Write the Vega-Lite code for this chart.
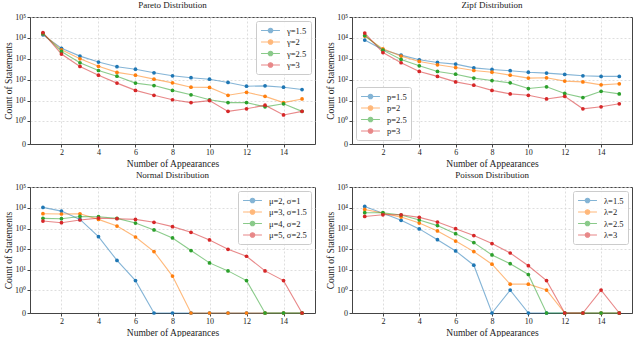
{
  "$schema": "https://vega.github.io/schema/vega-lite/v6.json",
  "padding": {"left": 2, "top": 0, "right": 4, "bottom": 0},
  "background": "white",
  "spacing": {"row": 2, "column": 8},
  "config": {
    "font": "Liberation Serif",
    "view": {"stroke": "#444", "strokeWidth": 1},
    "axis": {"labelFont": "Liberation Serif", "titleFont": "Liberation Serif", "labelFontSize": 8, "titleFontSize": 9.5, "titleFontWeight": "normal", "labelColor": "#222", "titleColor": "#222", "domainColor": "#444", "tickColor": "#444", "tickSize": 3, "gridColor": "#d6d6d6", "gridDash": [2, 2], "gridWidth": 0.8, "labelPadding": 1.5, "titlePadding": 1.5},
    "title": {"font": "Liberation Serif", "fontSize": 9, "fontWeight": "normal", "offset": 3, "color": "#222"},
    "legend": {"labelFont": "Liberation Serif", "labelFontSize": 8.5, "labelColor": "#222", "strokeColor": "#ccc", "fillColor": "rgba(255,255,255,0.85)", "padding": 4, "cornerRadius": 2, "symbolType": "M-2.1,0H2.1M-0.5,0A0.5,0.5,0,1,1,0.5,0A0.5,0.5,0,1,1,-0.5,0Z", "symbolSize": 81, "symbolStrokeWidth": 1.2, "symbolOffset": 5, "rowPadding": 0.5, "labelOffset": 11, "offset": 4}
  },
  "data": {"values": [
    {"d":"Pareto","s":"γ=1.5","x":1,"y":14000},{"d":"Pareto","s":"γ=1.5","x":2,"y":3200},{"d":"Pareto","s":"γ=1.5","x":3,"y":1350},{"d":"Pareto","s":"γ=1.5","x":4,"y":700},{"d":"Pareto","s":"γ=1.5","x":5,"y":420},{"d":"Pareto","s":"γ=1.5","x":6,"y":320},{"d":"Pareto","s":"γ=1.5","x":7,"y":215},{"d":"Pareto","s":"γ=1.5","x":8,"y":155},{"d":"Pareto","s":"γ=1.5","x":9,"y":125},{"d":"Pareto","s":"γ=1.5","x":10,"y":106},{"d":"Pareto","s":"γ=1.5","x":11,"y":74},{"d":"Pareto","s":"γ=1.5","x":12,"y":49},{"d":"Pareto","s":"γ=1.5","x":13,"y":51},{"d":"Pareto","s":"γ=1.5","x":14,"y":44},{"d":"Pareto","s":"γ=1.5","x":15,"y":34},
    {"d":"Pareto","s":"γ=2","x":1,"y":16000},{"d":"Pareto","s":"γ=2","x":2,"y":2700},{"d":"Pareto","s":"γ=2","x":3,"y":1000},{"d":"Pareto","s":"γ=2","x":4,"y":440},{"d":"Pareto","s":"γ=2","x":5,"y":225},{"d":"Pareto","s":"γ=2","x":6,"y":165},{"d":"Pareto","s":"γ=2","x":7,"y":107},{"d":"Pareto","s":"γ=2","x":8,"y":71},{"d":"Pareto","s":"γ=2","x":9,"y":44},{"d":"Pareto","s":"γ=2","x":10,"y":43},{"d":"Pareto","s":"γ=2","x":11,"y":18},{"d":"Pareto","s":"γ=2","x":12,"y":25},{"d":"Pareto","s":"γ=2","x":13,"y":16},{"d":"Pareto","s":"γ=2","x":14,"y":8},{"d":"Pareto","s":"γ=2","x":15,"y":12},
    {"d":"Pareto","s":"γ=2.5","x":1,"y":16000},{"d":"Pareto","s":"γ=2.5","x":2,"y":2250},{"d":"Pareto","s":"γ=2.5","x":3,"y":650},{"d":"Pareto","s":"γ=2.5","x":4,"y":277},{"d":"Pareto","s":"γ=2.5","x":5,"y":148},{"d":"Pareto","s":"γ=2.5","x":6,"y":69},{"d":"Pareto","s":"γ=2.5","x":7,"y":53},{"d":"Pareto","s":"γ=2.5","x":8,"y":31},{"d":"Pareto","s":"γ=2.5","x":9,"y":19},{"d":"Pareto","s":"γ=2.5","x":10,"y":11},{"d":"Pareto","s":"γ=2.5","x":11,"y":8},{"d":"Pareto","s":"γ=2.5","x":12,"y":8},{"d":"Pareto","s":"γ=2.5","x":13,"y":5},{"d":"Pareto","s":"γ=2.5","x":14,"y":7},{"d":"Pareto","s":"γ=2.5","x":15,"y":3},
    {"d":"Pareto","s":"γ=3","x":1,"y":18000},{"d":"Pareto","s":"γ=3","x":2,"y":1700},{"d":"Pareto","s":"γ=3","x":3,"y":435},{"d":"Pareto","s":"γ=3","x":4,"y":166},{"d":"Pareto","s":"γ=3","x":5,"y":69},{"d":"Pareto","s":"γ=3","x":6,"y":31},{"d":"Pareto","s":"γ=3","x":7,"y":18},{"d":"Pareto","s":"γ=3","x":8,"y":11},{"d":"Pareto","s":"γ=3","x":9,"y":8},{"d":"Pareto","s":"γ=3","x":10,"y":10},{"d":"Pareto","s":"γ=3","x":11,"y":3},{"d":"Pareto","s":"γ=3","x":12,"y":4},{"d":"Pareto","s":"γ=3","x":13,"y":6},{"d":"Pareto","s":"γ=3","x":14,"y":2},{"d":"Pareto","s":"γ=3","x":15,"y":3},
    {"d":"Zipf","s":"p=1.5","x":1,"y":7900},{"d":"Zipf","s":"p=1.5","x":2,"y":2700},{"d":"Zipf","s":"p=1.5","x":3,"y":1500},{"d":"Zipf","s":"p=1.5","x":4,"y":900},{"d":"Zipf","s":"p=1.5","x":5,"y":670},{"d":"Zipf","s":"p=1.5","x":6,"y":560},{"d":"Zipf","s":"p=1.5","x":7,"y":370},{"d":"Zipf","s":"p=1.5","x":8,"y":310},{"d":"Zipf","s":"p=1.5","x":9,"y":270},{"d":"Zipf","s":"p=1.5","x":10,"y":230},{"d":"Zipf","s":"p=1.5","x":11,"y":208},{"d":"Zipf","s":"p=1.5","x":12,"y":180},{"d":"Zipf","s":"p=1.5","x":13,"y":155},{"d":"Zipf","s":"p=1.5","x":14,"y":145},{"d":"Zipf","s":"p=1.5","x":15,"y":145},
    {"d":"Zipf","s":"p=2","x":1,"y":12300},{"d":"Zipf","s":"p=2","x":2,"y":3000},{"d":"Zipf","s":"p=2","x":3,"y":1350},{"d":"Zipf","s":"p=2","x":4,"y":750},{"d":"Zipf","s":"p=2","x":5,"y":520},{"d":"Zipf","s":"p=2","x":6,"y":385},{"d":"Zipf","s":"p=2","x":7,"y":277},{"d":"Zipf","s":"p=2","x":8,"y":230},{"d":"Zipf","s":"p=2","x":9,"y":166},{"d":"Zipf","s":"p=2","x":10,"y":120},{"d":"Zipf","s":"p=2","x":11,"y":124},{"d":"Zipf","s":"p=2","x":12,"y":86},{"d":"Zipf","s":"p=2","x":13,"y":79},{"d":"Zipf","s":"p=2","x":14,"y":57},{"d":"Zipf","s":"p=2","x":15,"y":64},
    {"d":"Zipf","s":"p=2.5","x":1,"y":13000},{"d":"Zipf","s":"p=2.5","x":2,"y":2600},{"d":"Zipf","s":"p=2.5","x":3,"y":940},{"d":"Zipf","s":"p=2.5","x":4,"y":465},{"d":"Zipf","s":"p=2.5","x":5,"y":250},{"d":"Zipf","s":"p=2.5","x":6,"y":185},{"d":"Zipf","s":"p=2.5","x":7,"y":120},{"d":"Zipf","s":"p=2.5","x":8,"y":92},{"d":"Zipf","s":"p=2.5","x":9,"y":71},{"d":"Zipf","s":"p=2.5","x":10,"y":38},{"d":"Zipf","s":"p=2.5","x":11,"y":46},{"d":"Zipf","s":"p=2.5","x":12,"y":22},{"d":"Zipf","s":"p=2.5","x":13,"y":14},{"d":"Zipf","s":"p=2.5","x":14,"y":28},{"d":"Zipf","s":"p=2.5","x":15,"y":21},
    {"d":"Zipf","s":"p=3","x":1,"y":17000},{"d":"Zipf","s":"p=3","x":2,"y":2000},{"d":"Zipf","s":"p=3","x":3,"y":650},{"d":"Zipf","s":"p=3","x":4,"y":250},{"d":"Zipf","s":"p=3","x":5,"y":145},{"d":"Zipf","s":"p=3","x":6,"y":79},{"d":"Zipf","s":"p=3","x":7,"y":55},{"d":"Zipf","s":"p=3","x":8,"y":31},{"d":"Zipf","s":"p=3","x":9,"y":21},{"d":"Zipf","s":"p=3","x":10,"y":18},{"d":"Zipf","s":"p=3","x":11,"y":12},{"d":"Zipf","s":"p=3","x":12,"y":16},{"d":"Zipf","s":"p=3","x":13,"y":4},{"d":"Zipf","s":"p=3","x":14,"y":5},{"d":"Zipf","s":"p=3","x":15,"y":7},
    {"d":"Normal","s":"μ=2, σ=1","x":1,"y":10400},{"d":"Normal","s":"μ=2, σ=1","x":2,"y":6900},{"d":"Normal","s":"μ=2, σ=1","x":3,"y":2750},{"d":"Normal","s":"μ=2, σ=1","x":4,"y":405},{"d":"Normal","s":"μ=2, σ=1","x":5,"y":29},{"d":"Normal","s":"μ=2, σ=1","x":6,"y":3},{"d":"Normal","s":"μ=2, σ=1","x":7,"y":0},{"d":"Normal","s":"μ=2, σ=1","x":8,"y":0},{"d":"Normal","s":"μ=2, σ=1","x":9,"y":0},{"d":"Normal","s":"μ=2, σ=1","x":10,"y":0},{"d":"Normal","s":"μ=2, σ=1","x":11,"y":0},{"d":"Normal","s":"μ=2, σ=1","x":12,"y":0},{"d":"Normal","s":"μ=2, σ=1","x":13,"y":0},{"d":"Normal","s":"μ=2, σ=1","x":14,"y":0},{"d":"Normal","s":"μ=2, σ=1","x":15,"y":0},
    {"d":"Normal","s":"μ=3, σ=1.5","x":1,"y":5150},{"d":"Normal","s":"μ=3, σ=1.5","x":2,"y":5000},{"d":"Normal","s":"μ=3, σ=1.5","x":3,"y":5100},{"d":"Normal","s":"μ=3, σ=1.5","x":4,"y":2750},{"d":"Normal","s":"μ=3, σ=1.5","x":5,"y":1320},{"d":"Normal","s":"μ=3, σ=1.5","x":6,"y":390},{"d":"Normal","s":"μ=3, σ=1.5","x":7,"y":77},{"d":"Normal","s":"μ=3, σ=1.5","x":8,"y":5},{"d":"Normal","s":"μ=3, σ=1.5","x":9,"y":0},{"d":"Normal","s":"μ=3, σ=1.5","x":10,"y":0},{"d":"Normal","s":"μ=3, σ=1.5","x":11,"y":0},{"d":"Normal","s":"μ=3, σ=1.5","x":12,"y":0},{"d":"Normal","s":"μ=3, σ=1.5","x":13,"y":0},{"d":"Normal","s":"μ=3, σ=1.5","x":14,"y":0},{"d":"Normal","s":"μ=3, σ=1.5","x":15,"y":0},
    {"d":"Normal","s":"μ=4, σ=2","x":1,"y":3080},{"d":"Normal","s":"μ=4, σ=2","x":2,"y":2960},{"d":"Normal","s":"μ=4, σ=2","x":3,"y":3800},{"d":"Normal","s":"μ=4, σ=2","x":4,"y":3700},{"d":"Normal","s":"μ=4, σ=2","x":5,"y":3080},{"d":"Normal","s":"μ=4, σ=2","x":6,"y":1830},{"d":"Normal","s":"μ=4, σ=2","x":7,"y":850},{"d":"Normal","s":"μ=4, σ=2","x":8,"y":350},{"d":"Normal","s":"μ=4, σ=2","x":9,"y":87},{"d":"Normal","s":"μ=4, σ=2","x":10,"y":22},{"d":"Normal","s":"μ=4, σ=2","x":11,"y":9},{"d":"Normal","s":"μ=4, σ=2","x":12,"y":3},{"d":"Normal","s":"μ=4, σ=2","x":13,"y":0},{"d":"Normal","s":"μ=4, σ=2","x":14,"y":0},{"d":"Normal","s":"μ=4, σ=2","x":15,"y":0},
    {"d":"Normal","s":"μ=5, σ=2.5","x":1,"y":2290},{"d":"Normal","s":"μ=5, σ=2.5","x":2,"y":1900},{"d":"Normal","s":"μ=5, σ=2.5","x":3,"y":2570},{"d":"Normal","s":"μ=5, σ=2.5","x":4,"y":3170},{"d":"Normal","s":"μ=5, σ=2.5","x":5,"y":2960},{"d":"Normal","s":"μ=5, σ=2.5","x":6,"y":2750},{"d":"Normal","s":"μ=5, σ=2.5","x":7,"y":1990},{"d":"Normal","s":"μ=5, σ=2.5","x":8,"y":1230},{"d":"Normal","s":"μ=5, σ=2.5","x":9,"y":660},{"d":"Normal","s":"μ=5, σ=2.5","x":10,"y":280},{"d":"Normal","s":"μ=5, σ=2.5","x":11,"y":100},{"d":"Normal","s":"μ=5, σ=2.5","x":12,"y":46},{"d":"Normal","s":"μ=5, σ=2.5","x":13,"y":9},{"d":"Normal","s":"μ=5, σ=2.5","x":14,"y":3},{"d":"Normal","s":"μ=5, σ=2.5","x":15,"y":0},
    {"d":"Poisson","s":"λ=1.5","x":1,"y":11500},{"d":"Poisson","s":"λ=1.5","x":2,"y":5400},{"d":"Poisson","s":"λ=1.5","x":3,"y":2470},{"d":"Poisson","s":"λ=1.5","x":4,"y":960},{"d":"Poisson","s":"λ=1.5","x":5,"y":290},{"d":"Poisson","s":"λ=1.5","x":6,"y":83},{"d":"Poisson","s":"λ=1.5","x":7,"y":17},{"d":"Poisson","s":"λ=1.5","x":8,"y":0},{"d":"Poisson","s":"λ=1.5","x":9,"y":1},{"d":"Poisson","s":"λ=1.5","x":10,"y":0},{"d":"Poisson","s":"λ=1.5","x":11,"y":0},{"d":"Poisson","s":"λ=1.5","x":12,"y":0},{"d":"Poisson","s":"λ=1.5","x":13,"y":0},{"d":"Poisson","s":"λ=1.5","x":14,"y":0},{"d":"Poisson","s":"λ=1.5","x":15,"y":0},
    {"d":"Poisson","s":"λ=2","x":1,"y":8300},{"d":"Poisson","s":"λ=2","x":2,"y":5500},{"d":"Poisson","s":"λ=2","x":3,"y":3550},{"d":"Poisson","s":"λ=2","x":4,"y":1830},{"d":"Poisson","s":"λ=2","x":5,"y":760},{"d":"Poisson","s":"λ=2","x":6,"y":250},{"d":"Poisson","s":"λ=2","x":7,"y":77},{"d":"Poisson","s":"λ=2","x":8,"y":19},{"d":"Poisson","s":"λ=2","x":9,"y":2},{"d":"Poisson","s":"λ=2","x":10,"y":2},{"d":"Poisson","s":"λ=2","x":11,"y":1},{"d":"Poisson","s":"λ=2","x":12,"y":0},{"d":"Poisson","s":"λ=2","x":13,"y":0},{"d":"Poisson","s":"λ=2","x":14,"y":0},{"d":"Poisson","s":"λ=2","x":15,"y":0},
    {"d":"Poisson","s":"λ=2.5","x":1,"y":5750},{"d":"Poisson","s":"λ=2.5","x":2,"y":5750},{"d":"Poisson","s":"λ=2.5","x":3,"y":4450},{"d":"Poisson","s":"λ=2.5","x":4,"y":2570},{"d":"Poisson","s":"λ=2.5","x":5,"y":1380},{"d":"Poisson","s":"λ=2.5","x":6,"y":560},{"d":"Poisson","s":"λ=2.5","x":7,"y":209},{"d":"Poisson","s":"λ=2.5","x":8,"y":53},{"d":"Poisson","s":"λ=2.5","x":9,"y":20},{"d":"Poisson","s":"λ=2.5","x":10,"y":6},{"d":"Poisson","s":"λ=2.5","x":11,"y":0},{"d":"Poisson","s":"λ=2.5","x":12,"y":0},{"d":"Poisson","s":"λ=2.5","x":13,"y":0},{"d":"Poisson","s":"λ=2.5","x":14,"y":0},{"d":"Poisson","s":"λ=2.5","x":15,"y":0},
    {"d":"Poisson","s":"λ=3","x":1,"y":3820},{"d":"Poisson","s":"λ=3","x":2,"y":4600},{"d":"Poisson","s":"λ=3","x":3,"y":4600},{"d":"Poisson","s":"λ=3","x":4,"y":3450},{"d":"Poisson","s":"λ=3","x":5,"y":2040},{"d":"Poisson","s":"λ=3","x":6,"y":980},{"d":"Poisson","s":"λ=3","x":7,"y":455},{"d":"Poisson","s":"λ=3","x":8,"y":187},{"d":"Poisson","s":"λ=3","x":9,"y":66},{"d":"Poisson","s":"λ=3","x":10,"y":16},{"d":"Poisson","s":"λ=3","x":11,"y":3},{"d":"Poisson","s":"λ=3","x":12,"y":0},{"d":"Poisson","s":"λ=3","x":13,"y":0},{"d":"Poisson","s":"λ=3","x":14,"y":1},{"d":"Poisson","s":"λ=3","x":15,"y":0}
  ]},
  "resolve": {"scale": {"color": "independent"}, "legend": {"color": "independent"}},
  "columns": 2,
  "concat": [
      {"width": 285, "height": 127, "title": "Pareto Distribution",
       "transform": [{"filter": "datum.d === 'Pareto'"}],
       "encoding": {
         "x": {"field": "x", "type": "quantitative", "title": "Number of Appearances", "scale": {"domain": [0.3, 15.7], "nice": false, "zero": false}, "axis": {"values": [2,4,6,8,10,12,14]}},
         "y": {"field": "y", "type": "quantitative", "title": "Count of Statements", "scale": {"type": "symlog", "constant": 0.085, "domain": [0, 100000], "nice": false}, "axis": {"values": [0,1,10,100,1000,10000,100000], "labelExpr": "datum.value == 0 ? '0' : '10' + ['⁰','¹','²','³','⁴','⁵'][round(log(datum.value)/LN10)]"}},
         "color": {"field": "s", "type": "nominal", "scale": {"domain": ["γ=1.5","γ=2","γ=2.5","γ=3"], "range": ["#1f77b4","#ff7f0e","#2ca02c","#d62728"]}, "legend": {"title": null, "orient": "top-right"}}
       },
       "layer": [
         {"mark": {"type": "line", "strokeWidth": 1.1, "opacity": 0.55}},
         {"mark": {"type": "point", "filled": true, "size": 14, "opacity": 1}}
       ]},
      {"width": 280, "height": 127, "title": "Zipf Distribution",
       "transform": [{"filter": "datum.d === 'Zipf'"}],
       "encoding": {
         "x": {"field": "x", "type": "quantitative", "title": "Number of Appearances", "scale": {"domain": [0.3, 15.7], "nice": false, "zero": false}, "axis": {"values": [2,4,6,8,10,12,14]}},
         "y": {"field": "y", "type": "quantitative", "title": "Count of Statements", "scale": {"type": "symlog", "constant": 0.085, "domain": [0, 100000], "nice": false}, "axis": {"values": [0,1,10,100,1000,10000,100000], "labelExpr": "datum.value == 0 ? '0' : '10' + ['⁰','¹','²','³','⁴','⁵'][round(log(datum.value)/LN10)]"}},
         "color": {"field": "s", "type": "nominal", "scale": {"domain": ["p=1.5","p=2","p=2.5","p=3"], "range": ["#1f77b4","#ff7f0e","#2ca02c","#d62728"]}, "legend": {"title": null, "orient": "bottom-left"}}
       },
       "layer": [
         {"mark": {"type": "line", "strokeWidth": 1.1, "opacity": 0.55}},
         {"mark": {"type": "point", "filled": true, "size": 14, "opacity": 1}}
       ]},
      {"width": 285, "height": 126, "title": "Normal Distribution",
       "transform": [{"filter": "datum.d === 'Normal'"}],
       "encoding": {
         "x": {"field": "x", "type": "quantitative", "title": "Number of Appearances", "scale": {"domain": [0.3, 15.7], "nice": false, "zero": false}, "axis": {"values": [2,4,6,8,10,12,14]}},
         "y": {"field": "y", "type": "quantitative", "title": "Count of Statements", "scale": {"type": "symlog", "constant": 0.085, "domain": [0, 100000], "nice": false}, "axis": {"values": [0,1,10,100,1000,10000,100000], "labelExpr": "datum.value == 0 ? '0' : '10' + ['⁰','¹','²','³','⁴','⁵'][round(log(datum.value)/LN10)]"}},
         "color": {"field": "s", "type": "nominal", "scale": {"domain": ["μ=2, σ=1","μ=3, σ=1.5","μ=4, σ=2","μ=5, σ=2.5"], "range": ["#1f77b4","#ff7f0e","#2ca02c","#d62728"]}, "legend": {"title": null, "orient": "top-right"}}
       },
       "layer": [
         {"mark": {"type": "line", "strokeWidth": 1.1, "opacity": 0.55}},
         {"mark": {"type": "point", "filled": true, "size": 14, "opacity": 1}}
       ]},
      {"width": 280, "height": 126, "title": "Poisson Distribution",
       "transform": [{"filter": "datum.d === 'Poisson'"}],
       "encoding": {
         "x": {"field": "x", "type": "quantitative", "title": "Number of Appearances", "scale": {"domain": [0.3, 15.7], "nice": false, "zero": false}, "axis": {"values": [2,4,6,8,10,12,14]}},
         "y": {"field": "y", "type": "quantitative", "title": "Count of Statements", "scale": {"type": "symlog", "constant": 0.085, "domain": [0, 100000], "nice": false}, "axis": {"values": [0,1,10,100,1000,10000,100000], "labelExpr": "datum.value == 0 ? '0' : '10' + ['⁰','¹','²','³','⁴','⁵'][round(log(datum.value)/LN10)]"}},
         "color": {"field": "s", "type": "nominal", "scale": {"domain": ["λ=1.5","λ=2","λ=2.5","λ=3"], "range": ["#1f77b4","#ff7f0e","#2ca02c","#d62728"]}, "legend": {"title": null, "orient": "top-right"}}
       },
       "layer": [
         {"mark": {"type": "line", "strokeWidth": 1.1, "opacity": 0.55}},
         {"mark": {"type": "point", "filled": true, "size": 14, "opacity": 1}}
       ]}
  ]
}
